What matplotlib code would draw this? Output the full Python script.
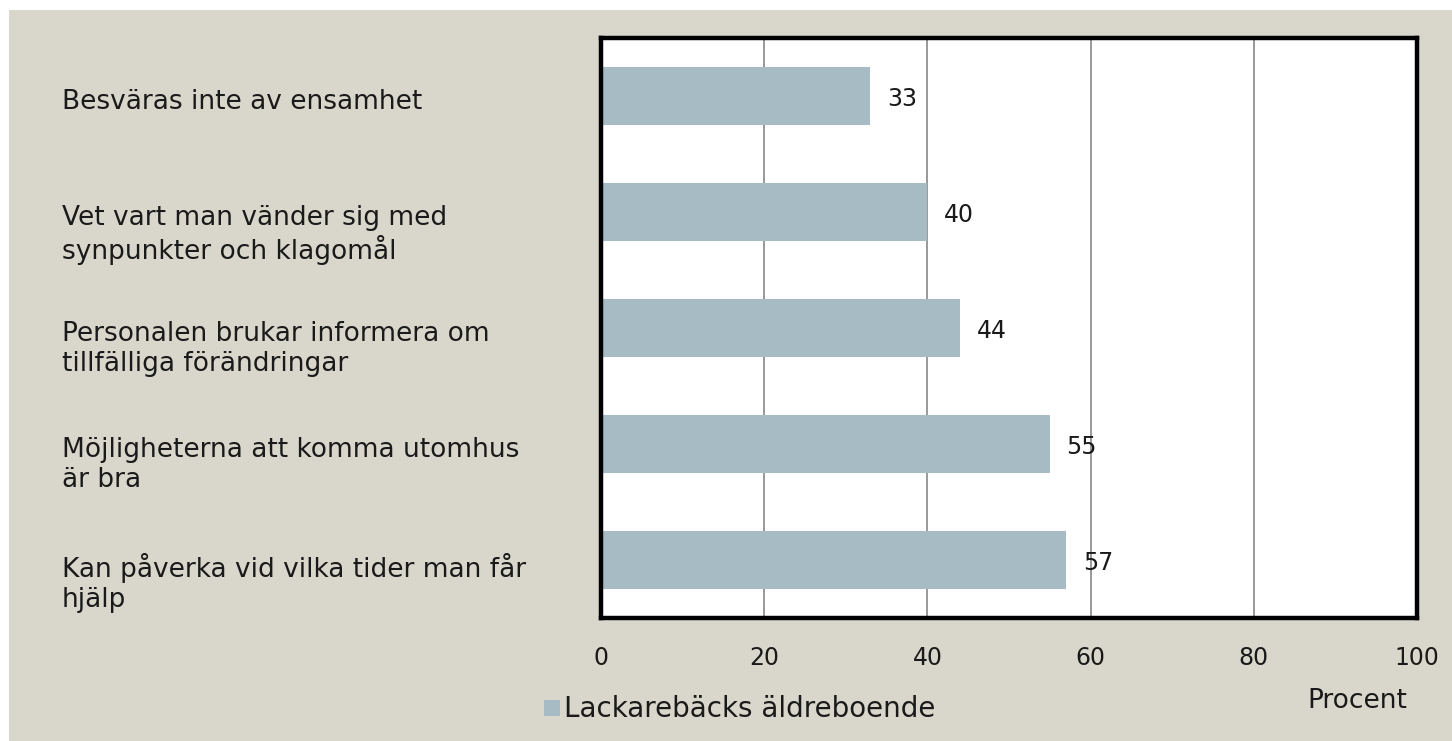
import matplotlib
matplotlib.use("Agg")
import matplotlib.pyplot as plt
import matplotlib.patches as patches
from matplotlib.transforms import ScaledTranslation

plt.rcParams['font.family'] = ['DejaVu Sans']

# data
categories = [
    "Besväras inte av ensamhet",
    "Vet vart man vänder sig med\nsynpunkter och klagomål",
    "Personalen brukar informera om\ntillfälliga förändringar",
    "Möjligheterna att komma utomhus\när bra",
    "Kan påverka vid vilka tider man får\nhjälp",
]
values = [33, 40, 44, 55, 57]
series_name = "Lackarebäcks äldreboende"
xticks = [0, 20, 40, 60, 80, 100]

bg = "#D9D7CB"
bar_color = "#A7BBC5"
txt = "#1a1a1a"

W, H = 1452, 741
fig = plt.figure(figsize=(W / 100, H / 100), dpi=100, facecolor="white")

# beige panel with white margin top/left
fig.patches.append(patches.Rectangle((9 / W, 0), 1 - 9 / W, 1 - 10 / H,
                                     transform=fig.transFigure, facecolor=bg,
                                     edgecolor="none", zorder=-10))

ax = fig.add_axes([601 / W, 1 - 618 / H, (1417 - 601) / W, (618 - 38) / H])
ax.set_facecolor("white")

ypos = list(range(len(categories)))
ax.barh(ypos, values, height=0.5, color=bar_color, zorder=2)
ax.set_ylim(len(categories) - 0.5, -0.5)
ax.set_xlim(0, 100)

for y, v in zip(ypos, values):
    ax.annotate(str(v), (v, y), xytext=(12, 0), textcoords="offset points",
                va="center_baseline", ha="left", fontsize=17, color=txt)

ax.set_xticks(xticks)
ax.set_xticklabels([str(t) for t in xticks], fontsize=17, color=txt)
ax.xaxis.grid(True, color="#888888", linewidth=1.2, zorder=1)
ax.set_axisbelow(True)
ax.tick_params(axis="x", length=0, pad=20)

ax.set_yticks(ypos)
ax.set_yticklabels(categories, fontsize=19, color=txt, ha="left",
                   va="top", linespacing=1.18)
ax.tick_params(axis="y", length=0, pad=(601 - 62) * 0.72)
for lab in ax.get_yticklabels():
    lab.set_transform(lab.get_transform() + ScaledTranslation(0, 0.07, fig.dpi_scale_trans))

for s in ax.spines.values():
    s.set_linewidth(3.2)
    s.set_color("black")

# legend
fig.patches.append(patches.Rectangle((544 / W, 1 - 716 / H), 16 / W, 16 / H,
                                     transform=fig.transFigure, facecolor=bar_color,
                                     edgecolor="none"))
fig.text(564 / W, 1 - 717 / H, series_name, fontsize=20, va="baseline", ha="left",
         color=txt)
fig.text(1357 / W, 1 - 708 / H, "Procent", fontsize=19, va="baseline", ha="center",
         color=txt)

fig.savefig("out.png", dpi=100, facecolor="white")
